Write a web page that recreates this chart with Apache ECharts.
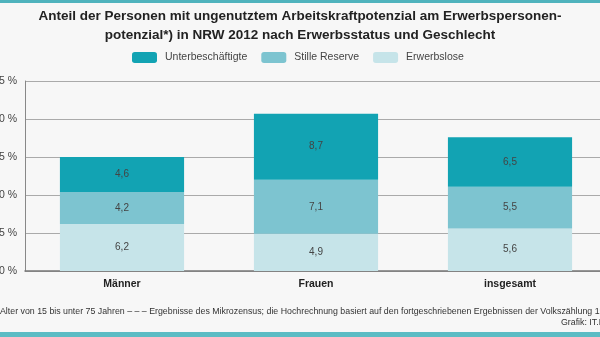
<!DOCTYPE html>
<html><head><meta charset="utf-8">
<script src="https://cdn.jsdelivr.net/npm/echarts@6/dist/echarts.min.js"></script>
<style>html,body{margin:0;padding:0;background:#f7f7f7;}#c{width:600px;height:337px;}</style>
</head><body><div id="c"></div>
<script>
const categories = ['Männer', 'Frauen', 'insgesamt'];
const erwerbslose = [6.2, 4.9, 5.6];
const stilleReserve = [4.2, 7.1, 5.5];
const unterbeschaeftigte = [4.6, 8.7, 6.5];
const yTicks = [0, 5, 10, 15, 20, 25];
const seriesNames = ['Unterbeschäftigte', 'Stille Reserve', 'Erwerbslose'];
const chart = echarts.init(document.getElementById('c'));
const fmt = p => String(p.value).replace('.', ',');
const lbl = {show: true, position: 'inside', color: '#444', fontSize: 10, fontFamily: 'Liberation Sans', formatter: fmt};
chart.setOption({
  backgroundColor: '#f7f7f7',
  animation: false,
  title: {
    text: 'Anteil der Personen mit ungenutztem Arbeitskraftpotenzial am Erwerbspersonen-\npotenzial*) in NRW 2012 nach Erwerbsstatus und Geschlecht',
    left: 'center', top: 2,
    textStyle: {fontSize: 13.5, fontWeight: 'bold', color: '#222', fontFamily: 'Liberation Sans', lineHeight: 19}
  },
  legend: {
    data: seriesNames, top: 52, left: 132, padding: 0, itemWidth: 25, itemHeight: 11, itemGap: 14,
    textStyle: {fontSize: 10.5, color: '#444', fontFamily: 'Liberation Sans', padding: [0, 0, 0, 3]}
  },
  grid: {left: 25, top: 81, width: 582, height: 190, outerBoundsMode: 'none'},
  xAxis: {
    type: 'category', data: categories,
    axisLine: {lineStyle: {color: '#777', width: 1.5}}, axisTick: {show: false},
    axisLabel: {fontSize: 10.5, fontWeight: 'bold', color: '#222', fontFamily: 'Liberation Sans', margin: 8}
  },
  yAxis: {
    type: 'value', min: 0, max: 25, interval: 5,
    axisLine: {show: true, lineStyle: {color: '#888'}},
    splitLine: {lineStyle: {color: '#aaa'}},
    axisLabel: {fontSize: 10.5, color: '#444', fontFamily: 'Liberation Sans', margin: 8, formatter: v => v + ' %'}
  },
  series: [
    {name: 'Erwerbslose', type: 'bar', stack: 's', data: erwerbslose, barWidth: '64%', itemStyle: {color: '#c6e4e9'}, label: lbl},
    {name: 'Stille Reserve', type: 'bar', stack: 's', data: stilleReserve, itemStyle: {color: '#7dc4d0'}, label: lbl},
    {name: 'Unterbeschäftigte', type: 'bar', stack: 's', data: unterbeschaeftigte, itemStyle: {color: '#12a3b3'}, label: lbl}
  ],
  graphic: [
    {type: 'rect', shape: {x: 0, y: 0, width: 600, height: 3}, style: {fill: '#4fb3bd'}},
    {type: 'rect', shape: {x: 0, y: 332, width: 600, height: 5}, style: {fill: '#5bbcc4'}},
    {type: 'text', left: 0, top: 307, style: {text: 'Alter von 15 bis unter 75 Jahren – – – Ergebnisse des Mikrozensus; die Hochrechnung basiert auf den fortgeschriebenen Ergebnissen der Volkszählung 1987', fontSize: 8.8, fill: '#333', fontFamily: 'Liberation Sans'}},
    {type: 'text', left: 561, top: 318, style: {text: 'Grafik: IT.NRW', fontSize: 8.8, fill: '#333', fontFamily: 'Liberation Sans'}}
  ]
});
</script></body></html>
